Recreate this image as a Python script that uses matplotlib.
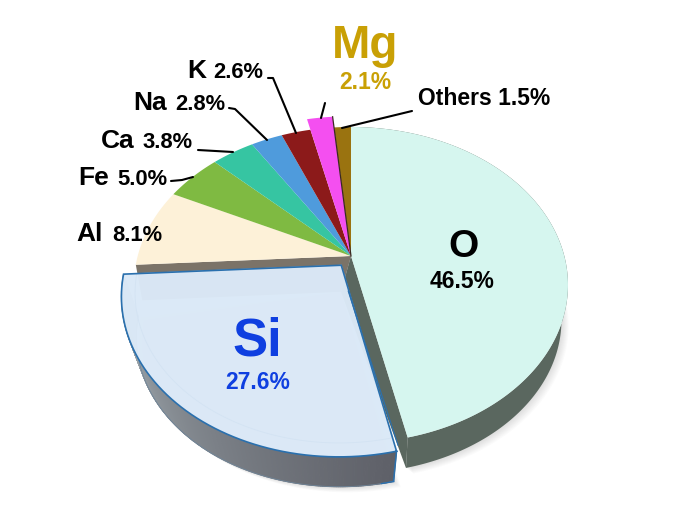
import numpy as np
import matplotlib
matplotlib.use("Agg")
import matplotlib.pyplot as plt
from matplotlib.colors import to_rgb

names = ["O", "Si", "Al", "Fe", "Ca", "Na", "K", "Mg", "Others"]
values = [46.5, 27.6, 8.1, 5.0, 3.8, 2.8, 2.6, 2.1, 1.5]
colors = ["#d6f6ef", "#dbe9f7", "#fdf1d8", "#7fba42", "#36c5a2",
          "#4f9bdc", "#8c1a1a", "#f44ff0", "#9a7310"]
explode = {"Si": 0.075}
enlarge = {"Mg": 1.1}

BOLD = "Liberation Sans"
APEX = (351.0, 256.0)
C, A, D = 0.1834, 152.7, 213.3      # projective view of the round pie
S, LOW_CY, TOP_CY = 0.97, 320.0, 285.0  # lower face of the slab
S_SI, LOW_CY_SI = 0.935, 326.0      # lower face of the pulled-out piece


def project(u, v):
    w = 1 + C * v
    return APEX[0] + D * u / w, APEX[1] - A * v / w


def lower(x, y, s=S, cy=LOW_CY):
    x, y = np.asarray(x, float), np.asarray(y, float)
    return APEX[0] + s * (x - APEX[0]), cy + s * (y - TOP_CY)


def wedge(start, val, shift=0.0, scale=1.0, n=240):
    a0, a1 = start * 3.6, (start + val) * 3.6
    mid = np.radians((a0 + a1) / 2)
    ou, ov = shift * np.sin(mid), shift * np.cos(mid)
    t = np.radians(np.linspace(a0, a1, n))
    rx, ry = project(ou + scale * np.sin(t), ov + scale * np.cos(t))
    ax_, ay_ = project(ou, ov)
    return float(ax_), float(ay_), rx, ry


fig = plt.figure(figsize=(6.84, 5.17), dpi=100)
ax = fig.add_axes([0, 0, 1, 1])
ax.set_xlim(0, 684)
ax.set_ylim(517, 0)
ax.axis("off")

starts = np.concatenate([[0], np.cumsum(values)[:-1]])
geo = {}
for nm, st, val in zip(names, starts, values):
    geo[nm] = wedge(st, val, explode.get(nm, 0.0), enlarge.get(nm, 1.0))

# soft drop shadows
lax, lay = lower(*APEX)
lax = lax - 10
for nm, s, cy in (("O", S, LOW_CY), ("Si", S_SI, LOW_CY_SI)):
    ox, oy, rx, ry = geo[nm]
    lx, ly = lower(rx, ry, s, cy)
    for k in range(1, 9):
        ax.fill(np.r_[lax, lx + k * 0.9], np.r_[lay, ly + k * 0.7],
                color="#555555", alpha=0.022, lw=0, zorder=1)

# side walls of the main slab
_, _, rx, ry = wedge(starts[1], values[1])
lx, ly = lower(rx, ry)
ax.fill([APEX[0], rx[-1], lx[-1], lax], [APEX[1], ry[-1], ly[-1], lay],
        color="#7b7368", lw=0, zorder=2)

ox, oy, rx, ry = geo["O"]
lx, ly = lower(rx, ry)
ax.fill(np.r_[rx, lx[::-1]], np.r_[ry, ly[::-1]], color="#5a675f", lw=0, zorder=2)
ax.fill([ox, rx[-1], lx[-1], lax], [oy, ry[-1], ly[-1], lay],
        color="#5a675f", lw=0, zorder=2)

# top faces except the glass Si piece
for i, nm in enumerate(names):
    if nm == "Si":
        continue
    ox, oy, rx, ry = geo[nm]
    ax.fill(np.r_[ox, rx], np.r_[oy, ry], color=colors[i], lw=0,
            zorder=3 + (1 if nm == "Mg" else 0))
ox, oy, rx, ry = geo["Mg"]
ax.plot([ox, rx[-1]], [oy, ry[-1]], color="#3a2a20", lw=0.9, zorder=4)

# Si slab with gradient wall
ox, oy, rx, ry = geo["Si"]
lx, ly = lower(rx, ry, S_SI, LOW_CY_SI)
c0, c1 = np.array(to_rgb("#5e6068")), np.array(to_rgb("#a8b2b7"))
n = len(rx)
for j in range(n - 1):
    f = (j / (n - 1)) ** 1.1
    col = c0 + (c1 - c0) * f
    ax.fill([rx[j], rx[j + 1], lx[j + 1], lx[j]], [ry[j], ry[j + 1], ly[j + 1], ly[j]],
            color=col, lw=0.8, edgecolor=col, zorder=5)
ax.plot(lx, ly, color="#6f8599", lw=0.6, zorder=6)
ax.plot([rx[0], lx[0]], [ry[0], ly[0]], color="#2a70ae", lw=1.1, zorder=6)
ax.plot(lx[:8], ly[:8], color="#2a70ae", lw=1.0, zorder=6)
ax.fill(np.r_[ox, rx], np.r_[oy, ry], color=colors[1], alpha=0.975, lw=0, zorder=6)
# inner bevel of the glass piece
ix, iy, jx, jy = wedge(starts[1], values[1], explode["Si"], 0.94)
ax.plot(np.r_[ix, jx, ix], np.r_[iy, jy, iy], color="#d3e3f3", lw=0.6, zorder=6)
ax.plot(np.r_[rx, ox, rx[0]], np.r_[ry, oy, ry[0]], color="#2a70ae", lw=1.2,
        solid_joinstyle="miter", zorder=7)
ax.plot([ox + 7, rx[0] + 1.5], [oy + 26, ry[0] - 6], color="#2a70ae", lw=0.8, zorder=7)

# leader lines: label anchor to slice
leaders = {
    "K": ([268, 273, 296], [78, 78, 133]),
    "Na": ([229, 235, 267], [108, 109, 140]),
    "Ca": ([198, 233], [150, 152]),
    "Fe": ([171, 182, 193], [181, 180, 177]),
    "Mg": ([325, 321], [103, 118]),
    "Others": ([342, 412], [128, 111]),
}
for xs, ys in leaders.values():
    ax.plot(xs, ys, color="black", lw=1.5, zorder=8, solid_capstyle="round")


def label(x, y, s, size, color="black", ha="left"):
    ax.text(x, y, s, fontsize=size, color=color, ha=ha, va="baseline",
            family=BOLD, weight="bold", zorder=9)


side_labels = {"K": (187, 213, 78), "Na": (133, 175, 110), "Ca": (101, 143, 148),
               "Fe": (78, 117, 185), "Al": (76, 112, 241)}
for nm, (xn, xv, yb) in side_labels.items():
    label(xn, yb, nm, 19)
    label(xv, yb, f"{values[names.index(nm)]:.1f}%", 15.8)

label(418, 105, f"Others {values[8]:.1f}%", 16.5)
label(463, 257, "O", 28, ha="center")
label(462, 288, f"{values[0]:.1f}%", 16.5, ha="center")
label(257, 356, "Si", 38, color="#0f3fe0", ha="center")
label(258, 389, f"{values[1]:.1f}%", 16.5, color="#0f3fe0", ha="center")
label(365, 58, "Mg", 33, color="#c9a005", ha="center")
label(365, 89, f"{values[7]:.1f}%", 16.5, color="#c9a005", ha="center")

fig.savefig("out.png", dpi=100)
